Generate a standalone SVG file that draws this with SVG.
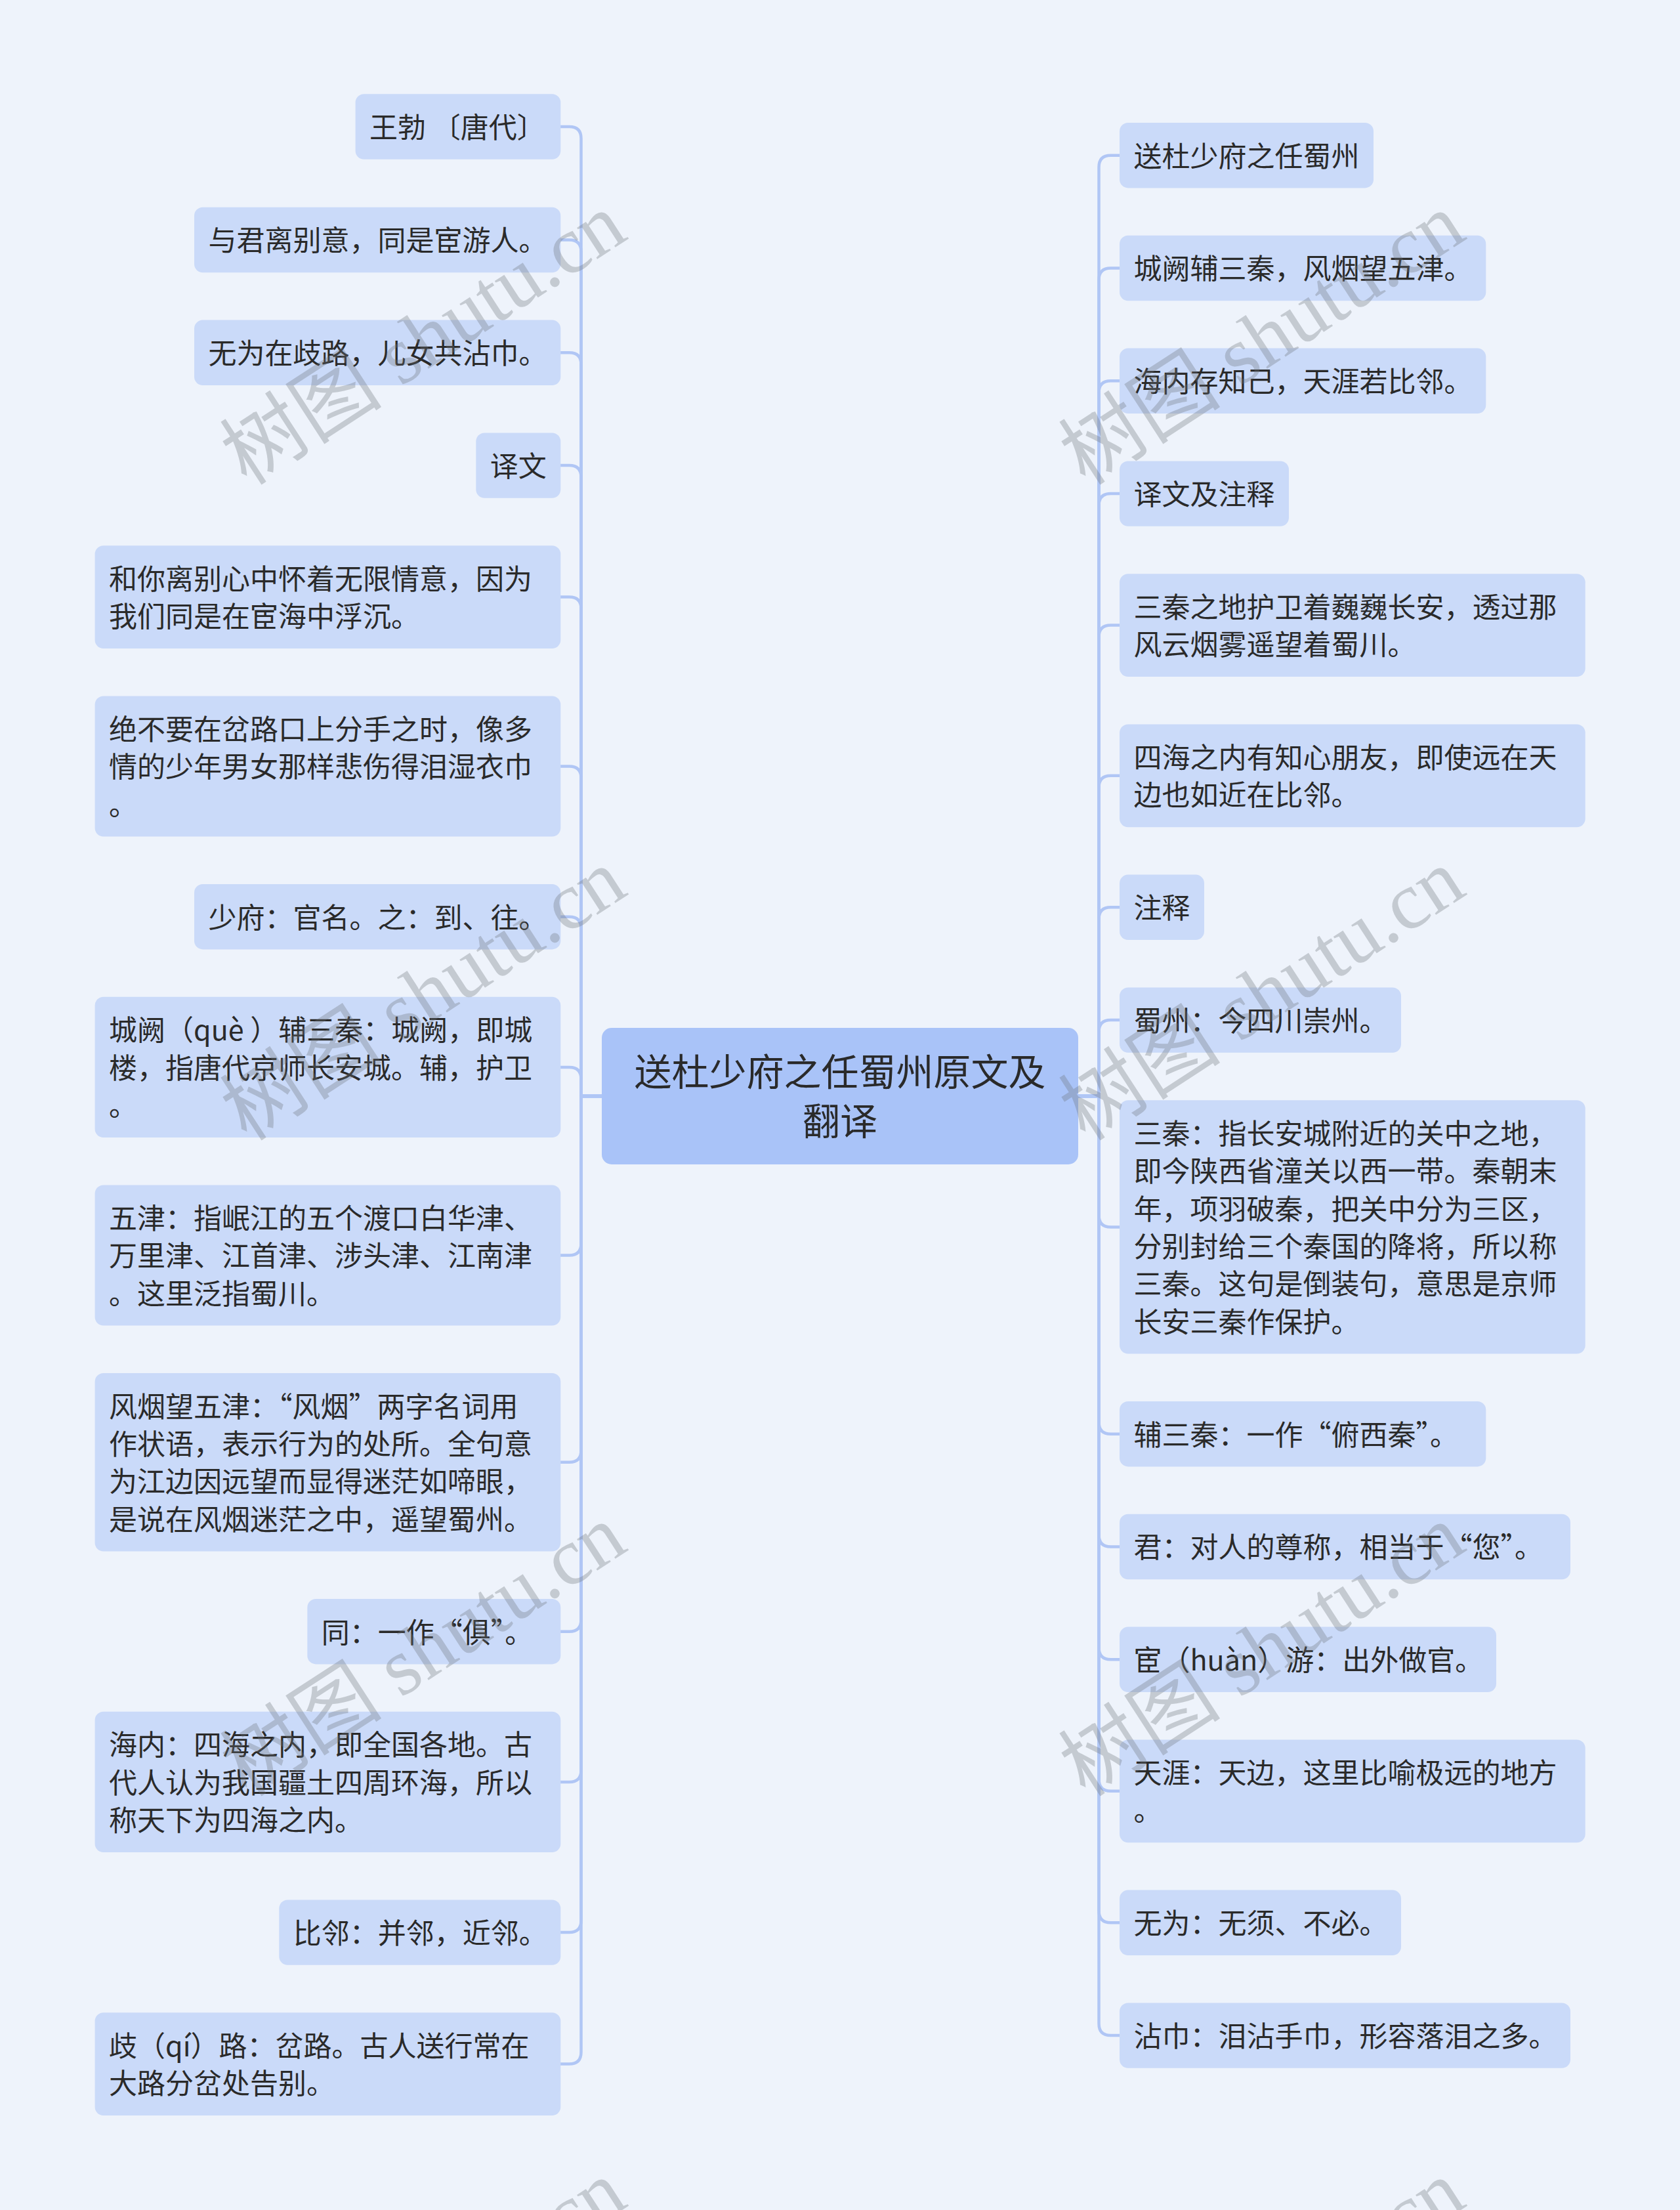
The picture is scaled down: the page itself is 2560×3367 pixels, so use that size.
<svg xmlns="http://www.w3.org/2000/svg" width="2560" height="3367" viewBox="0 0 2560 3367">
<style>
.bg{fill:#eef3fb}
.n{fill:#cadaf9}
.c{fill:#a9c3f8}
.t{font-family:"Noto Sans CJK SC","Noto Sans",sans-serif;font-size:43px;fill:#2a2a2a}
.ct{font-family:"Noto Sans CJK SC","Noto Sans",sans-serif;font-size:57px;fill:#2a2a2a;text-anchor:middle}
.e{fill:none;stroke:#b0c6f5;stroke-width:4.5;stroke-linecap:round;stroke-linejoin:round}
.wm{font-size:124px;fill:#6e7278;fill-opacity:0.32;text-anchor:middle}
.wc{font-family:"Noto Sans CJK SC",sans-serif}
.wl{font-family:"Liberation Serif",serif}
</style>
<rect class="bg" x="0" y="0" width="2560" height="3367"/>

<g id="connectors">
<path class="e" d="M917 1670H885.5V211Q885.5 193 867.5 193H854"/>
<path class="e" d="M917 1670H885.5V383.5Q885.5 365.5 867.5 365.5H854"/>
<path class="e" d="M917 1670H885.5V555.3Q885.5 537.3 867.5 537.3H854"/>
<path class="e" d="M917 1670H885.5V727.1Q885.5 709.1 867.5 709.1H854"/>
<path class="e" d="M917 1670H885.5V927.6Q885.5 909.6 867.5 909.6H854"/>
<path class="e" d="M917 1670H885.5V1185.5Q885.5 1167.5 867.5 1167.5H854"/>
<path class="e" d="M917 1670H885.5V1414.7Q885.5 1396.7 867.5 1396.7H854"/>
<path class="e" d="M917 1670H885.5V1643.9Q885.5 1625.9 867.5 1625.9H854"/>
<path class="e" d="M917 1670H885.5V1894.5Q885.5 1912.5 867.5 1912.5H854"/>
<path class="e" d="M917 1670H885.5V2209.8Q885.5 2227.8 867.5 2227.8H854"/>
<path class="e" d="M917 1670H885.5V2467.7Q885.5 2485.7 867.5 2485.7H854"/>
<path class="e" d="M917 1670H885.5V2696.9Q885.5 2714.9 867.5 2714.9H854"/>
<path class="e" d="M917 1670H885.5V2926.1Q885.5 2944.1 867.5 2944.1H854"/>
<path class="e" d="M917 1670H885.5V3126.6Q885.5 3144.6 867.5 3144.6H854"/>

<path class="e" d="M1643 1670H1674.5V254.7Q1674.5 236.7 1692.5 236.7H1706"/>
<path class="e" d="M1643 1670H1674.5V426.5Q1674.5 408.5 1692.5 408.5H1706"/>
<path class="e" d="M1643 1670H1674.5V598.3Q1674.5 580.3 1692.5 580.3H1706"/>
<path class="e" d="M1643 1670H1674.5V770.1Q1674.5 752.1 1692.5 752.1H1706"/>
<path class="e" d="M1643 1670H1674.5V970.6Q1674.5 952.6 1692.5 952.6H1706"/>
<path class="e" d="M1643 1670H1674.5V1199.8Q1674.5 1181.8 1692.5 1181.8H1706"/>
<path class="e" d="M1643 1670H1674.5V1400.3Q1674.5 1382.3 1692.5 1382.3H1706"/>
<path class="e" d="M1643 1670H1674.5V1572.1Q1674.5 1554.1 1692.5 1554.1H1706"/>
<path class="e" d="M1643 1670H1674.5V1851.4Q1674.5 1869.4 1692.5 1869.4H1706"/>
<path class="e" d="M1643 1670H1674.5V2166.7Q1674.5 2184.7 1692.5 2184.7H1706"/>
<path class="e" d="M1643 1670H1674.5V2338.5Q1674.5 2356.5 1692.5 2356.5H1706"/>
<path class="e" d="M1643 1670H1674.5V2510.3Q1674.5 2528.3 1692.5 2528.3H1706"/>
<path class="e" d="M1643 1670H1674.5V2710.8Q1674.5 2728.8 1692.5 2728.8H1706"/>
<path class="e" d="M1643 1670H1674.5V2911.3Q1674.5 2929.3 1692.5 2929.3H1706"/>
<path class="e" d="M1643 1670H1674.5V3083.1Q1674.5 3101.1 1692.5 3101.1H1706"/>
</g>

<g id="center">
<rect class="c" x="917" y="1566" width="726" height="208" rx="15"/>
<text class="ct" x="1280" y="1653.5">送杜少府之任蜀州原文及</text>
<text class="ct" x="1280" y="1728.5">翻译</text>
</g>

<g id="L1"><rect class="n" x="541.6" y="143.3" width="312.7" height="99.4" rx="13"/><text class="t" x="563.1" y="209.8">王勃 〔唐代〕</text></g>
<g id="L2"><rect class="n" x="296" y="315.8" width="558.3" height="99.4" rx="13"/><text class="t" x="317.5" y="382.3">与君离别意，同是宦游人。</text></g>
<g id="L3"><rect class="n" x="296" y="487.6" width="558.3" height="99.4" rx="13"/><text class="t" x="317.5" y="554.1">无为在歧路，儿女共沾巾。</text></g>
<g id="L4"><rect class="n" x="725.3" y="659.4" width="129" height="99.4" rx="13"/><text class="t" x="746.8" y="725.9">译文</text></g>
<g id="L5"><rect class="n" x="144.6" y="831.2" width="709.7" height="156.8" rx="13"/><text class="t" x="166.1" y="897.7">和你离别心中怀着无限情意，因为</text><text class="t" x="166.1" y="955.1">我们同是在宦海中浮沉。</text></g>
<g id="L6"><rect class="n" x="144.6" y="1060.4" width="709.7" height="214.2" rx="13"/><text class="t" x="166.1" y="1126.9">绝不要在岔路口上分手之时，像多</text><text class="t" x="166.1" y="1184.3">情的少年男女那样悲伤得泪湿衣巾</text><text class="t" x="166.1" y="1241.7">。</text></g>
<g id="L7"><rect class="n" x="296" y="1347" width="558.3" height="99.4" rx="13"/><text class="t" x="317.5" y="1413.5">少府：官名。之：到、往。</text></g>
<g id="L8"><rect class="n" x="144.6" y="1518.8" width="709.7" height="214.2" rx="13"/><text class="t" x="166.1" y="1585.3">城阙（què ）辅三秦：城阙，即城</text><text class="t" x="166.1" y="1642.7">楼，指唐代京师长安城。辅，护卫</text><text class="t" x="166.1" y="1700.1">。</text></g>
<g id="L9"><rect class="n" x="144.6" y="1805.4" width="709.7" height="214.2" rx="13"/><text class="t" x="166.1" y="1871.9">五津：指岷江的五个渡口白华津、</text><text class="t" x="166.1" y="1929.3">万里津、江首津、涉头津、江南津</text><text class="t" x="166.1" y="1986.7">。这里泛指蜀川。</text></g>
<g id="L10"><rect class="n" x="144.6" y="2092" width="709.7" height="271.6" rx="13"/><text class="t" x="166.1" y="2158.5">风烟望五津：“风烟”两字名词用</text><text class="t" x="166.1" y="2215.9">作状语，表示行为的处所。全句意</text><text class="t" x="166.1" y="2273.3">为江边因远望而显得迷茫如啼眼，</text><text class="t" x="166.1" y="2330.7">是说在风烟迷茫之中，遥望蜀州。</text></g>
<g id="L11"><rect class="n" x="468.3" y="2436" width="386" height="99.4" rx="13"/><text class="t" x="489.8" y="2502.5">同：一作“俱”。</text></g>
<g id="L12"><rect class="n" x="144.6" y="2607.8" width="709.7" height="214.2" rx="13"/><text class="t" x="166.1" y="2674.3">海内：四海之内，即全国各地。古</text><text class="t" x="166.1" y="2731.7">代人认为我国疆土四周环海，所以</text><text class="t" x="166.1" y="2789.1">称天下为四海之内。</text></g>
<g id="L13"><rect class="n" x="425.3" y="2894.4" width="429" height="99.4" rx="13"/><text class="t" x="446.8" y="2960.9">比邻：并邻，近邻。</text></g>
<g id="L14"><rect class="n" x="144.6" y="3066.2" width="709.7" height="156.8" rx="13"/><text class="t" x="166.1" y="3132.7">歧（qí）路：岔路。古人送行常在</text><text class="t" x="166.1" y="3190.1">大路分岔处告别。</text></g>

<g id="R1"><rect class="n" x="1706" y="187" width="387" height="99.4" rx="13"/><text class="t" x="1727.5" y="253.5">送杜少府之任蜀州</text></g>
<g id="R2"><rect class="n" x="1706" y="358.8" width="558.3" height="99.4" rx="13"/><text class="t" x="1727.5" y="425.3">城阙辅三秦，风烟望五津。</text></g>
<g id="R3"><rect class="n" x="1706" y="530.6" width="558.3" height="99.4" rx="13"/><text class="t" x="1727.5" y="597.1">海内存知己，天涯若比邻。</text></g>
<g id="R4"><rect class="n" x="1706" y="702.4" width="258" height="99.4" rx="13"/><text class="t" x="1727.5" y="768.9">译文及注释</text></g>
<g id="R5"><rect class="n" x="1706" y="874.2" width="709.7" height="156.8" rx="13"/><text class="t" x="1727.5" y="940.7">三秦之地护卫着巍巍长安，透过那</text><text class="t" x="1727.5" y="998.1">风云烟雾遥望着蜀川。</text></g>
<g id="R6"><rect class="n" x="1706" y="1103.4" width="709.7" height="156.8" rx="13"/><text class="t" x="1727.5" y="1169.9">四海之内有知心朋友，即使远在天</text><text class="t" x="1727.5" y="1227.3">边也如近在比邻。</text></g>
<g id="R7"><rect class="n" x="1706" y="1332.6" width="129" height="99.4" rx="13"/><text class="t" x="1727.5" y="1399.1">注释</text></g>
<g id="R8"><rect class="n" x="1706" y="1504.4" width="429" height="99.4" rx="13"/><text class="t" x="1727.5" y="1570.9">蜀州：今四川崇州。</text></g>
<g id="R9"><rect class="n" x="1706" y="1676.2" width="709.7" height="386.4" rx="13"/><text class="t" x="1727.5" y="1742.7">三秦：指长安城附近的关中之地，</text><text class="t" x="1727.5" y="1800.1">即今陕西省潼关以西一带。秦朝末</text><text class="t" x="1727.5" y="1857.5">年，项羽破秦，把关中分为三区，</text><text class="t" x="1727.5" y="1914.9">分别封给三个秦国的降将，所以称</text><text class="t" x="1727.5" y="1972.3">三秦。这句是倒装句，意思是京师</text><text class="t" x="1727.5" y="2029.7">长安三秦作保护。</text></g>
<g id="R10"><rect class="n" x="1706" y="2135" width="558.3" height="99.4" rx="13"/><text class="t" x="1727.5" y="2201.5">辅三秦：一作“俯西秦”。</text></g>
<g id="R11"><rect class="n" x="1706" y="2306.8" width="687" height="99.4" rx="13"/><text class="t" x="1727.5" y="2373.3">君：对人的尊称，相当于“您”。</text></g>
<g id="R12"><rect class="n" x="1706" y="2478.6" width="574" height="99.4" rx="13"/><text class="t" x="1727.5" y="2545.1">宦（huàn）游：出外做官。</text></g>
<g id="R13"><rect class="n" x="1706" y="2650.4" width="709.7" height="156.8" rx="13"/><text class="t" x="1727.5" y="2716.9">天涯：天边，这里比喻极远的地方</text><text class="t" x="1727.5" y="2774.3">。</text></g>
<g id="R14"><rect class="n" x="1706" y="2879.6" width="429" height="99.4" rx="13"/><text class="t" x="1727.5" y="2946.1">无为：无须、不必。</text></g>
<g id="R15"><rect class="n" x="1706" y="3051.4" width="687" height="99.4" rx="13"/><text class="t" x="1727.5" y="3117.9">沾巾：泪沾手巾，形容落泪之多。</text></g>

<g id="watermarks">
<text class="wm" transform="translate(644 515) rotate(-33)" y="44"><tspan class="wc">树图</tspan><tspan class="wl"> shutu.cn</tspan></text>
<text class="wm" transform="translate(1922 515) rotate(-33)" y="44"><tspan class="wc">树图</tspan><tspan class="wl"> shutu.cn</tspan></text>
<text class="wm" transform="translate(644 1514) rotate(-33)" y="44"><tspan class="wc">树图</tspan><tspan class="wl"> shutu.cn</tspan></text>
<text class="wm" transform="translate(1922 1514) rotate(-33)" y="44"><tspan class="wc">树图</tspan><tspan class="wl"> shutu.cn</tspan></text>
<text class="wm" transform="translate(644 2513) rotate(-33)" y="44"><tspan class="wc">树图</tspan><tspan class="wl"> shutu.cn</tspan></text>
<text class="wm" transform="translate(1922 2513) rotate(-33)" y="44"><tspan class="wc">树图</tspan><tspan class="wl"> shutu.cn</tspan></text>
<text class="wm" transform="translate(644 3512) rotate(-33)" y="44"><tspan class="wc">树图</tspan><tspan class="wl"> shutu.cn</tspan></text>
<text class="wm" transform="translate(1922 3512) rotate(-33)" y="44"><tspan class="wc">树图</tspan><tspan class="wl"> shutu.cn</tspan></text>
</g>
</svg>
